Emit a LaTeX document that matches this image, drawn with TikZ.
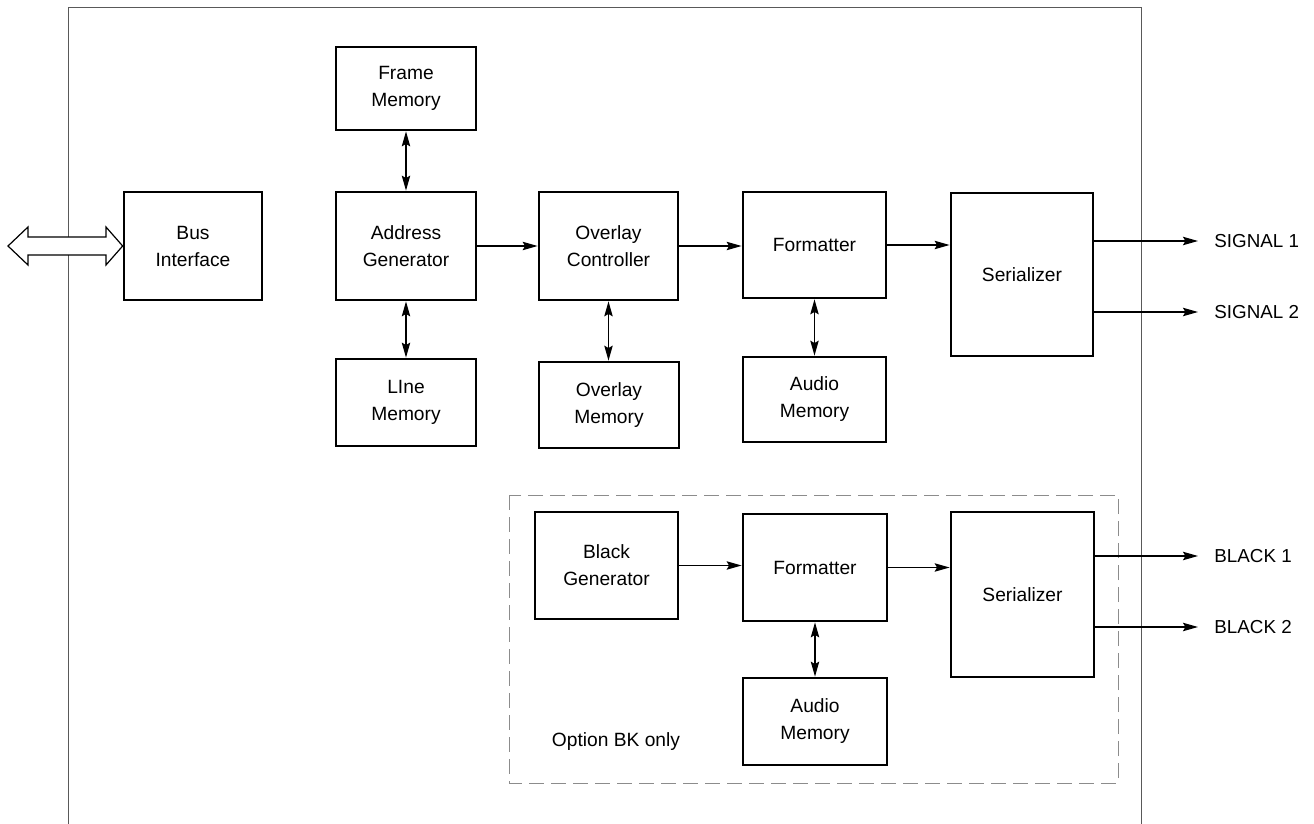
\documentclass[tikz,border=0pt]{standalone}
\usepackage{fontspec}
\setmainfont{Liberation Sans}
\usetikzlibrary{arrows.meta}

\tikzset{
  block/.style={draw, line width=1.35pt, align=center, inner sep=0pt,
    font=\fontsize{9.6}{13.5}\selectfont},
  tip/.tip={Stealth[length=7.5pt, width=4.2pt, inset=1.2pt]},
  link/.style={line width=0.6pt, -tip},
  dlink/.style={line width=0.6pt, tip-tip},
  outlbl/.style={anchor=west, inner sep=0pt, font=\fontsize{9.4}{12}\selectfont}
}

\begin{document}
\begin{tikzpicture}[x=0.5pt, y=-0.5pt]
\useasboundingbox (0,0) rectangle (1314,824);
% housing and option area
\draw[black!65, line width=0.5pt] (68,824) -- (68,8) -- (1141,8) -- (1141,824);
\draw[black!45, line width=0.5pt, dash pattern=on 7.5pt off 3.5pt] (509,495) rectangle (1118,783);
% main signal path
\node[block, minimum width=69pt, minimum height=54pt] (bus) at (193,246) {Bus\\Interface};
\node[block, minimum width=70pt, minimum height=41.5pt] (frame) at (406,88.5) {Frame\\Memory};
\node[block, minimum width=70pt, minimum height=54pt] (addr) at (406,246) {Address\\Generator};
\node[block, minimum width=70pt, minimum height=43.5pt] (line) at (406,402.5) {LIne\\Memory};
\node[block, minimum width=69.5pt, minimum height=54pt] (ovc) at (608.5,246) {Overlay\\Controller};
\node[block, minimum width=70pt, minimum height=43pt] (ovm) at (609,405) {Overlay\\Memory};
\node[block, minimum width=71.5pt, minimum height=53pt] (fmt) at (814.5,245) {Formatter};
\node[block, minimum width=71.5pt, minimum height=42.5pt] (aud) at (814.5,399.5) {Audio\\Memory};
\node[block, minimum width=71pt, minimum height=81.5pt] (ser) at (1022,274.5) {Serializer};
% black path
\node[block, minimum width=71.5pt, minimum height=53.5pt] (blk) at (606.5,565.5) {Black\\Generator};
\node[block, minimum width=72pt, minimum height=53.5pt] (fmtb) at (815,567.5) {Formatter};
\node[block, minimum width=72pt, minimum height=43.5pt] (audb) at (815,721.5) {Audio\\Memory};
\node[block, minimum width=71.5pt, minimum height=82.5pt] (serb) at (1022.5,594.5) {Serializer};
\node[font=\fontsize{9.6}{12}\selectfont] (optlbl) at (616,742) {Option BK only};
% bus port
\coordinate (port) at (8,246);
\draw[line width=0.6pt, fill=white] (port) -- (28,227) -- (28,237) -- (106,237) -- (106,227)
  -- (bus.west) -- (106,265) -- (106,255) -- (28,255) -- (28,265) -- cycle;
% connectors
\draw[dlink] (frame) -- (addr);
\draw[dlink] (addr) -- (line);
\draw[dlink] (ovc.south) -- (ovc.south |- ovm.north);
\draw[dlink] (fmt) -- (aud);
\draw[link] (addr) -- (ovc);
\draw[link] (ovc.east) -- (ovc.east -| fmt.west);
\draw[link] (fmt.east) -- (fmt.east -| ser.west);
\draw[link] (blk.east) -- (blk.east -| fmtb.west);
\draw[link] (fmtb.east) -- (fmtb.east -| serb.west);
\draw[dlink] (fmtb) -- (audb);
% outputs
\coordinate (sig1) at (1198,241);
\coordinate (sig2) at (1198,312);
\coordinate (blk1) at (1198,556);
\coordinate (blk2) at (1198,627);
\draw[link] (sig1 -| ser.east) -- (sig1);
\draw[link] (sig2 -| ser.east) -- (sig2);
\draw[link] (blk1 -| serb.east) -- (blk1);
\draw[link] (blk2 -| serb.east) -- (blk2);
\node[outlbl] (sig1lbl) at (1214,241) {SIGNAL 1};
\node[outlbl] (sig2lbl) at (1214,312) {SIGNAL 2};
\node[outlbl] (blk1lbl) at (1214,556) {BLACK 1};
\node[outlbl] (blk2lbl) at (1214,627) {BLACK 2};
\end{tikzpicture}
\end{document}
